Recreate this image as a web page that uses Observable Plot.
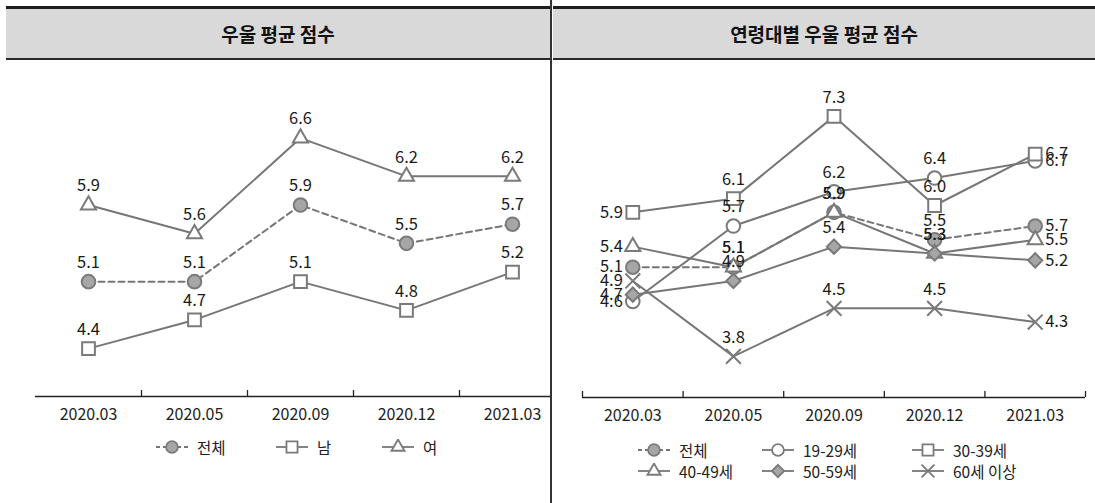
<!DOCTYPE html>
<html><head><meta charset="utf-8">
<script src="https://cdn.jsdelivr.net/npm/d3@7"></script>
<script src="https://cdn.jsdelivr.net/npm/@observablehq/plot@0.6"></script>
<style>
body{margin:0;background:#fff;font-family:"Noto Sans CJK KR",sans-serif;}
#root{position:relative;width:1095px;height:503px;overflow:hidden;background:#fff;}
.panel{position:absolute;top:0;height:503px;overflow:hidden;}
.hdr{position:absolute;top:6px;height:49px;border-top:3px solid #1e1e1e;border-bottom:2px solid #2a2a2a;background:#d9d9d9;display:flex;align-items:center;justify-content:center;font-family:"Noto Sans CJK KR",sans-serif;font-weight:700;font-size:19px;color:#111;}
.plot{position:absolute;top:61px;left:0;max-width:none !important;}
.plot text{font-weight:400;}
.item{position:absolute;display:flex;align-items:center;white-space:nowrap;font-family:"Noto Sans CJK KR",sans-serif;font-size:15.5px;color:#222;}
.item svg{margin-right:8px;}
#divider{position:absolute;left:550px;top:0;width:2px;height:503px;background:#333;}
</style></head>
<body>
<div id="root">
  <div class="panel" id="left" style="left:0;width:550px;">
    <div class="hdr" style="left:6px;width:544px;">우울 평균 점수</div>
  </div>
  <div id="divider"></div>
  <div class="panel" id="right" style="left:552px;width:543px;">
    <div class="hdr" style="left:1px;width:542px;">연령대별 우울 평균 점수</div>
  </div>
</div>
<script>
// ---------- data ----------
const categories = ["2020.03", "2020.05", "2020.09", "2020.12", "2021.03"];

const genderNames = ["전체", "남", "여"];
const genderTotal = [5.1, 5.1, 5.9, 5.5, 5.7];
const genderMale = [4.4, 4.7, 5.1, 4.8, 5.2];
const genderFemale = [5.9, 5.6, 6.6, 6.2, 6.2];

const ageNames = ["전체", "19-29세", "30-39세", "40-49세", "50-59세", "60세 이상"];
const ageTotal = [5.1, 5.1, 5.9, 5.5, 5.7];
const age19to29 = [4.6, 5.7, 6.2, 6.4, 6.651];
const age30to39 = [5.9, 6.1, 7.3, 6.0, 6.749];
const age40to49 = [5.4, 5.1, 5.9, 5.3, 5.5];
const age50to59 = [4.7, 4.9, 5.4, 5.3, 5.2];
const age60plus = [4.9, 3.8, 4.5, 4.5, 4.3];

// ---------- styles ----------
const LINE = "#767676", MSTROKE = "#7a7a7a", MFILL = "#a6a6a6";
const symStyle = {
  circleF: {symbol: "circle", r: 6.8, fill: MFILL},
  circleO: {symbol: "circle", r: 6.8, fill: "white"},
  square:  {symbol: "square", r: 7.2, fill: "white"},
  triangle:{symbol: "triangle", r: 5.6, fill: "white"},
  diamond: {symbol: "diamond2", r: 6.4, fill: MFILL},
  times:   {symbol: "times", r: 6.8, fill: "none"}
};

function rowsOf(name, values) {
  return values.map((v, i) => ({name, i, x: i + 0.5, value: v, category: categories[i]}));
}

function seriesMarks(rows, sym, dashed) {
  const s = symStyle[sym];
  return [
    Plot.line(rows, {x: "x", y: "value", stroke: LINE, strokeWidth: 2, strokeDasharray: dashed ? "6,4" : null}),
    Plot.dot(rows, {x: "x", y: "value", symbol: s.symbol, r: s.r, fill: s.fill, stroke: MSTROKE, strokeWidth: 2})
  ];
}

function axisMarks(yMin, pxPerUnit, tickVals) {
  return [
    Plot.ruleY([yMin], {stroke: "#222", strokeWidth: 1.3}),
    Plot.ruleX(tickVals, {x: d => d, y1: yMin, y2: yMin + 6 / pxPerUnit, stroke: "#222", strokeWidth: 1.3}),
    Plot.text(categories, {x: (d, i) => i + 0.5, y: yMin, dy: 18, text: d => d, fontSize: 16, fill: "#222"})
  ];
}

const fontFamily = "'Noto Sans CJK KR', sans-serif";
const LBL = 16.5;

// ---------- left chart ----------
{
  const series = [
    {rows: rowsOf(genderNames[0], genderTotal), sym: "circleF", dashed: true},
    {rows: rowsOf(genderNames[1], genderMale), sym: "square"},
    {rows: rowsOf(genderNames[2], genderFemale), sym: "triangle"}
  ];
  const yDom = [3.9, 7.4];
  const px = 335 / (yDom[1] - yDom[0]);
  const all = series.flatMap(s => s.rows);
  const chart = Plot.plot({
    width: 570, height: 370,
    marginLeft: 35, marginRight: 5, marginTop: 0, marginBottom: 35,
    style: {fontFamily, background: "transparent", overflow: "visible", maxWidth: "none"},
    x: {type: "linear", domain: [0, 5], range: [35, 565], axis: null},
    y: {domain: yDom, range: [335, 0], axis: null},
    marks: [
      ...axisMarks(yDom[0], px, [1, 2, 3, 4]),
      ...series.flatMap(s => seriesMarks(s.rows, s.sym, s.dashed)),
      Plot.text(all, {x: "x", y: "value", text: d => d.value.toFixed(1), dy: -19, fontSize: LBL, fill: "#1a1a1a"})
    ]
  });
  chart.classList.add("plot");
  document.getElementById("left").appendChild(chart);
}

// ---------- right chart ----------
{
  const series = [
    {rows: rowsOf(ageNames[0], ageTotal), sym: "circleF", dashed: true},
    {rows: rowsOf(ageNames[1], age19to29), sym: "circleO"},
    {rows: rowsOf(ageNames[2], age30to39), sym: "square"},
    {rows: rowsOf(ageNames[3], age40to49), sym: "triangle"},
    {rows: rowsOf(ageNames[4], age50to59), sym: "diamond"},
    {rows: rowsOf(ageNames[5], age60plus), sym: "times"}
  ];
  const yDom = [3.2, 8.1];
  const px = 336 / (yDom[1] - yDom[0]);
  const all = series.flatMap(s => s.rows);
  const first = all.filter(d => d.i === 0);
  const last = all.filter(d => d.i === 4);
  const mid = all.filter(d => d.i > 0 && d.i < 4);
  const chart = Plot.plot({
    width: 543, height: 370,
    marginLeft: 30, marginRight: 10, marginTop: 0, marginBottom: 34,
    style: {fontFamily, background: "transparent", overflow: "visible", maxWidth: "none"},
    x: {type: "linear", domain: [0, 5], range: [30, 533], axis: null},
    y: {domain: yDom, range: [336, 0], axis: null},
    marks: [
      ...axisMarks(yDom[0], px, [0, 1, 2, 3, 4, 5]),
      ...series.flatMap(s => seriesMarks(s.rows, s.sym, s.dashed)),
      Plot.text(mid, {x: "x", y: "value", text: d => d.value.toFixed(1), dy: -19, fontSize: LBL, fill: "#1a1a1a"}),
      Plot.text(first, {x: "x", y: "value", text: d => d.value.toFixed(1), dx: -10, textAnchor: "end", fontSize: LBL, fill: "#1a1a1a"}),
      Plot.text(last, {x: "x", y: "value", text: d => d.value.toFixed(1), dx: 10, textAnchor: "start", fontSize: LBL, fill: "#1a1a1a"})
    ]
  });
  chart.classList.add("plot");
  document.getElementById("right").appendChild(chart);
}

// ---------- legends ----------
function legendSymbol(sym, dashed) {
  const s = symStyle[sym];
  const size = Math.PI * s.r * s.r * 0.75;
  const path = d3.symbol(d3["symbol" + {circle: "Circle", square: "Square", triangle: "Triangle", diamond2: "Diamond2", times: "Times"}[s.symbol]], size)();
  return `<svg width="34" height="16" viewBox="0 0 34 16">
    <line x1="1" x2="33" y1="8" y2="8" stroke="${LINE}" stroke-width="1.8" ${dashed ? 'stroke-dasharray="4,3"' : ''}/>
    <path d="${path}" transform="translate(17,8)" fill="${s.fill}" stroke="${MSTROKE}" stroke-width="1.8"/>
  </svg>`;
}
function addLegend(parentId, items) {
  const p = document.getElementById(parentId);
  for (const it of items) {
    const div = document.createElement("div");
    div.className = "item";
    div.style.left = it.left + "px";
    div.style.top = it.top + "px";
    div.innerHTML = legendSymbol(it.sym, it.dashed) + `<span>${it.label}</span>`;
    p.appendChild(div);
  }
}
addLegend("left", [
  {label: genderNames[0], sym: "circleF", dashed: true, left: 155, top: 436},
  {label: genderNames[1], sym: "square", left: 275, top: 436},
  {label: genderNames[2], sym: "triangle", left: 381, top: 436}
]);
addLegend("right", [
  {label: ageNames[0], sym: "circleF", dashed: true, left: 85, top: 439},
  {label: ageNames[1], sym: "circleO", left: 209, top: 439},
  {label: ageNames[2], sym: "square", left: 359, top: 439},
  {label: ageNames[3], sym: "triangle", left: 85, top: 460},
  {label: ageNames[4], sym: "diamond", left: 209, top: 460},
  {label: ageNames[5], sym: "times", left: 359, top: 460}
]);
</script>
</body></html>
